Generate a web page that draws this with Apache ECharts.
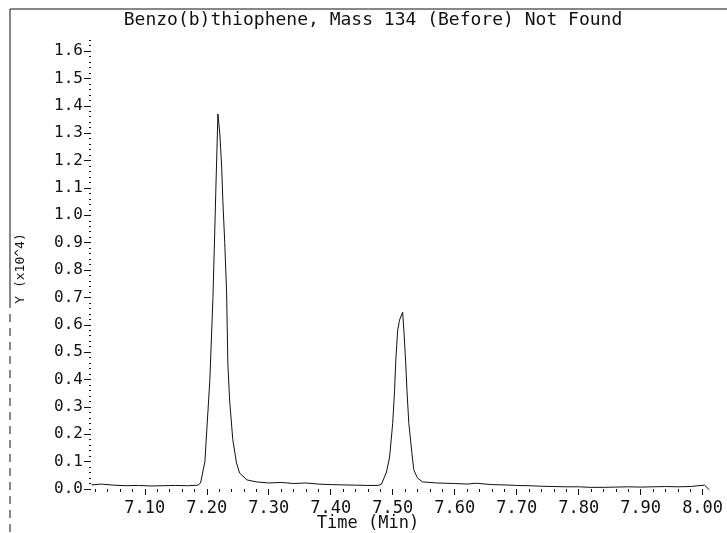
<!DOCTYPE html>
<html>
<head>
<meta charset="utf-8">
<script src="https://cdn.jsdelivr.net/npm/echarts@6/dist/echarts.min.js"></script>
<style>
  html, body { margin: 0; padding: 0; background: #fff; }
  #chart { width: 727px; height: 533px; }
</style>
</head>
<body>
<div id="chart"></div>
<script>
// retention time (min) and abundance (x10^4)
const times = [
  7.014, 7.030, 7.050, 7.070, 7.090, 7.110, 7.130, 7.150, 7.170, 7.186,
  7.190, 7.197, 7.205, 7.210, 7.213, 7.2145, 7.218, 7.221, 7.224, 7.226,
  7.229, 7.232, 7.234, 7.237, 7.242, 7.248, 7.253, 7.265, 7.280, 7.300,
  7.320, 7.340, 7.360, 7.380, 7.400, 7.420, 7.440, 7.460, 7.476, 7.482,
  7.490, 7.495, 7.500, 7.503, 7.505, 7.508, 7.511, 7.516, 7.518, 7.521,
  7.523, 7.526, 7.531, 7.534, 7.540, 7.548, 7.571, 7.600, 7.620, 7.635,
  7.660, 7.680, 7.700, 7.720, 7.740, 7.760, 7.780, 7.800, 7.820, 7.840,
  7.860, 7.880, 7.900, 7.920, 7.940, 7.960, 7.980, 8.003, 8.011
];
const intensity = [
  0.015, 0.018, 0.014, 0.012, 0.013, 0.011, 0.012, 0.013, 0.012, 0.014,
  0.022, 0.10, 0.40, 0.70, 0.95, 1.08, 1.37, 1.30, 1.18, 1.05,
  0.90, 0.72, 0.46, 0.32, 0.18, 0.095, 0.058, 0.033, 0.026, 0.022,
  0.024, 0.020, 0.022, 0.018, 0.016, 0.015, 0.014, 0.013, 0.013, 0.018,
  0.062, 0.117, 0.24, 0.36, 0.47, 0.58, 0.617, 0.646, 0.58, 0.46,
  0.36, 0.24, 0.13, 0.07, 0.04, 0.026, 0.022, 0.020, 0.018, 0.021,
  0.016, 0.015, 0.013, 0.012, 0.010, 0.009, 0.008, 0.008, 0.006, 0.006,
  0.007, 0.008, 0.007, 0.008, 0.009, 0.008, 0.009, 0.014, -0.003
];

const xTicks = [7.10, 7.20, 7.30, 7.40, 7.50, 7.60, 7.70, 7.80, 7.90, 8.00];
const yTicks = [0.0, 0.1, 0.2, 0.3, 0.4, 0.5, 0.6, 0.7, 0.8, 0.9, 1.0, 1.1, 1.2, 1.3, 1.4, 1.5, 1.6];

// minor ticks every 0.02
const xMinor = [];
for (let k = 351; k <= 400; k++) xMinor.push(k * 0.02);
const yMinor = [];
for (let k = 0; k <= 82; k++) yMinor.push(k * 0.02);

const mono = 'DejaVu Sans Mono';
const ink = '#111';

let myChart = echarts.init(document.getElementById('chart'));

var option = {
  backgroundColor: '#fff',
  animation: false,
  title: {
    text: 'Benzo(b)thiophene, Mass 134 (Before) Not Found',
    left: 373,
    top: 11,
    padding: 0,
    textAlign: 'center',
    textStyle: { fontFamily: mono, fontSize: 18, fontWeight: 'normal', color: ink }
  },
  grid: { left: 89, right: 12, top: 10, bottom: 44, containLabel: false, outerBoundsMode: 'none' },
  xAxis: [
    {
      type: 'value',
      min: 7.01,
      max: 8.02,
      position: 'bottom',
      name: 'Time (Min)',
      nameLocation: 'middle',
      nameGap: 26,
      nameMoveOverlap: false,
      nameTextStyle: { fontFamily: mono, fontSize: 17, color: ink, padding: [0, 68, 0, 0] },
      axisLine: { show: false },
      splitLine: { show: false },
      axisTick: { show: true, length: 6, customValues: xTicks, lineStyle: { color: ink } },
      axisLabel: {
        customValues: xTicks,
        margin: 11,
        fontFamily: mono,
        fontSize: 17,
        color: ink,
        formatter: v => v.toFixed(2)
      }
    },
    {
      type: 'value',
      min: 7.01,
      max: 8.02,
      position: 'bottom',
      axisLine: { show: false },
      splitLine: { show: false },
      axisLabel: { show: false },
      axisTick: { show: true, length: 3, customValues: xMinor, lineStyle: { color: ink } }
    }
  ],
  yAxis: [
    {
      type: 'value',
      min: 0,
      max: 1.75,
      position: 'left',
      name: 'Y (x10^4)',
      nameLocation: 'middle',
      nameGap: 62,
      nameMoveOverlap: false,
      nameTextStyle: { fontFamily: mono, fontSize: 13, color: ink, padding: [0, 38, 0, 0] },
      axisLine: { show: false },
      splitLine: { show: false },
      axisTick: { show: true, length: 5, customValues: yTicks, lineStyle: { color: ink } },
      axisLabel: {
        customValues: yTicks,
        margin: 6,
        fontFamily: mono,
        fontSize: 16,
        color: ink,
        formatter: v => v.toFixed(1)
      }
    },
    {
      type: 'value',
      min: 0,
      max: 1.75,
      position: 'left',
      axisLine: { show: false },
      splitLine: { show: false },
      axisLabel: { show: false },
      axisTick: { show: true, inside: true, length: 2, customValues: yMinor, lineStyle: { color: ink } }
    }
  ],
  graphic: [
    { type: 'line', shape: { x1: 10, y1: 9, x2: 727, y2: 9 }, style: { stroke: ink, lineWidth: 1 } },
    { type: 'line', shape: { x1: 10, y1: 9, x2: 10, y2: 300 }, style: { stroke: ink, lineWidth: 1 } },
    { type: 'line', shape: { x1: 10, y1: 300, x2: 10, y2: 533 }, style: { stroke: ink, lineWidth: 1, lineDash: [8, 6] } }
  ],
  series: [
    {
      type: 'line',
      xAxisIndex: 0,
      yAxisIndex: 0,
      showSymbol: false,
      clip: false,
      lineStyle: { color: ink, width: 1 },
      data: times.map((t, i) => [t, intensity[i]])
    }
  ]
};

myChart.setOption(option);
</script>
</body>
</html>
